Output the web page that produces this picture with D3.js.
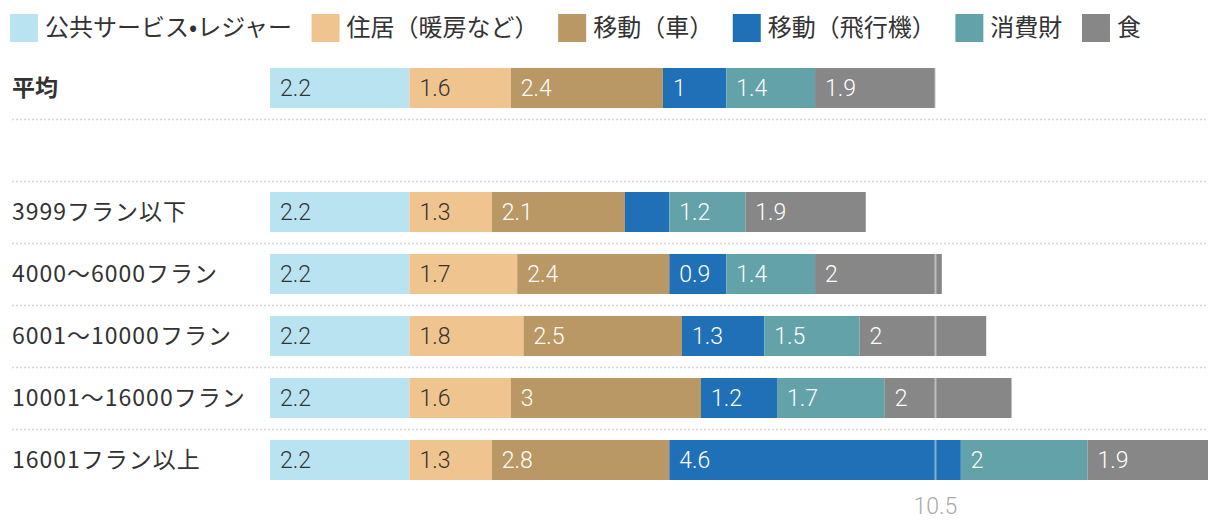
<!DOCTYPE html>
<html><head><meta charset="utf-8">
<script src="https://cdn.jsdelivr.net/npm/d3@7"></script>
<style>
html,body{margin:0;padding:0;background:#fff;}
svg{display:block;}
</style></head>
<body>
<svg id="chart" width="1220" height="530"></svg>
<script>
const categories = ["平均", "", "3999フラン以下", "4000〜6000フラン", "6001〜10000フラン", "10001〜16000フラン", "16001フラン以上"];
const seriesNames = ["公共サービス•レジャー", "住居（暖房など）", "移動（車）", "移動（飛行機）", "消費財", "食"];
const leisure = [2.2, null, 2.2, 2.2, 2.2, 2.2, 2.2];
const housing = [1.6, null, 1.3, 1.7, 1.8, 1.6, 1.3];
const car     = [2.4, null, 2.1, 2.4, 2.5, 3.0, 2.8];
const flight  = [1.0, null, 0.7, 0.9, 1.3, 1.2, 4.6];
const goods   = [1.4, null, 1.2, 1.4, 1.5, 1.7, 2.0];
const food    = [1.9, null, 1.9, 2.0, 2.0, 2.0, 1.9];
const referenceValue = 10.5;
const referenceLabel = "10.5";
const colors = ["#bae3f2", "#f0c48e", "#b99866", "#2070b8", "#64a2aa", "#878787"];
const labelColors = ["#333", "#333", "#fff", "#fff", "#fff", "#fff"];

const seriesValues = [leisure, housing, car, flight, goods, food];
const svg = d3.select("#chart");
const keys = categories.map((c, i) => "r" + i);
const rows = categories.map((c, i) => {
  const o = {key: keys[i], label: c};
  seriesNames.forEach((s, j) => o[s] = seriesValues[j][i] || 0);
  o.empty = seriesValues[0][i] == null;
  return o;
});

const x = d3.scaleLinear().domain([0, 14.8]).range([270, 1208]);
const y = d3.scaleBand().domain(keys).range([68, 68 + 62 * 7 - 22]).paddingInner(22 / 62).paddingOuter(0);
const bw = y.bandwidth();

// separators
svg.append("g").selectAll("line").data(keys.slice(0, -1)).join("line")
  .attr("x1", 12).attr("x2", 1208)
  .attr("y1", k => y(k) + bw + 11.5).attr("y2", k => y(k) + bw + 11.5)
  .attr("stroke", "#d6d6d6").attr("stroke-width", 1.5).attr("stroke-dasharray", "2,2");

// row labels
svg.append("g").selectAll("text").data(rows).join("text")
  .attr("x", 12).attr("y", d => y(d.key) + bw / 2 + 8)
  .attr("font-family", "'Noto Sans CJK JP', sans-serif")
  .attr("font-size", 23)
  .attr("letter-spacing", (d, i) => i === 0 ? 0 : 1)
  .attr("font-weight", (d, i) => i === 0 ? 700 : 400)
  .attr("fill", "#333")
  .text(d => d.label);

const stack = d3.stack().keys(seriesNames)(rows.filter(r => !r.empty));
const gBars = svg.append("g");
stack.forEach((layer, j) => {
  const g = gBars.append("g");
  g.selectAll("rect").data(layer).join("rect")
    .attr("x", d => x(d[0])).attr("width", d => x(d[1]) - x(d[0]))
    .attr("y", d => y(d.data.key)).attr("height", bw)
    .attr("fill", colors[j]);
  g.selectAll("text").data(layer.filter(d => x(d[1]) - x(d[0]) > 50)).join("text")
    .attr("x", d => x(d[0]) + 10).attr("y", d => y(d.data.key) + bw / 2 + 8)
    .attr("font-family", "Roboto, 'Helvetica Neue', sans-serif")
    .attr("font-weight", 300).attr("font-size", 23)
    .attr("fill", labelColors[j])
    .text(d => d.data[seriesNames[j]]);
});

// reference line
svg.append("line")
  .attr("x1", x(referenceValue)).attr("x2", x(referenceValue))
  .attr("y1", y(keys[0])).attr("y2", y(keys[keys.length - 1]) + bw)
  .attr("stroke", "#fff").attr("stroke-opacity", 0.45).attr("stroke-width", 2);
svg.append("text")
  .attr("x", x(referenceValue)).attr("y", 514)
  .attr("text-anchor", "middle")
  .attr("font-family", "Roboto, 'Helvetica Neue', sans-serif")
  .attr("font-weight", 300).attr("font-size", 23).attr("fill", "#aaa")
  .text(referenceLabel);

// legend
const lg = svg.append("g");
let lx = 10;
seriesNames.forEach((s, j) => {
  lg.append("rect").attr("x", lx).attr("y", 14).attr("width", 28).attr("height", 28).attr("fill", colors[j]);
  const t = lg.append("text").attr("x", lx + 35).attr("y", 36)
    .attr("font-family", "'Noto Sans CJK JP', sans-serif").attr("font-size", 24).attr("fill", "#333")
    .text(s);
  lx += 35 + t.node().getComputedTextLength() + 19.6;
});
</script>
</body></html>
